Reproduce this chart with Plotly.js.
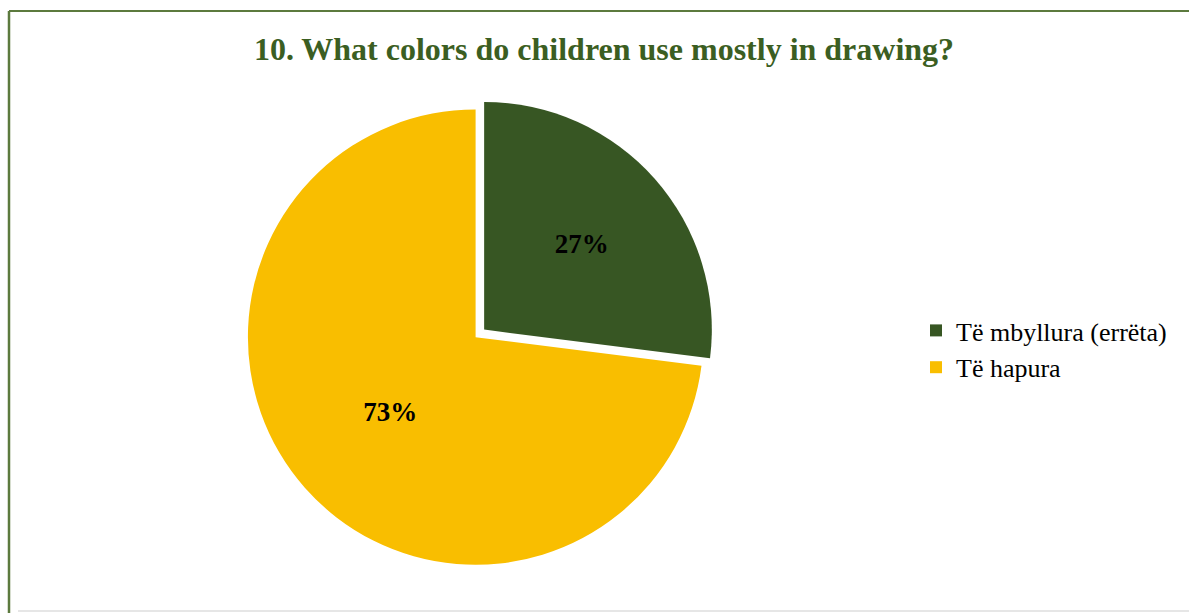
<!DOCTYPE html>
<html>
<head>
<meta charset="utf-8">
<script src="https://cdn.plot.ly/plotly-3.0.1.min.js"></script>
<style>
html,body{margin:0;padding:0;background:#fff;}
#chart{width:1189px;height:613px;}
</style>
</head>
<body>
<div id="chart"></div>
<script>
const categories = ["Të mbyllura (errëta)", "Të hapura"];
const values = [27, 73];
const sliceColors = ["#375623", "#F9BE00"];
const titleText = "10. What colors do children use mostly in drawing?";

const W = 1189, H = 613;
const trace = {
  type: "pie",
  labels: categories,
  values: values,
  sort: false,
  direction: "clockwise",
  rotation: 0,
  pull: [0.05, 0],
  marker: {colors: sliceColors, line: {color: "#ffffff", width: 0}},
  texttemplate: "%{percent:.0%}",
  textposition: "inside",
  insidetextorientation: "horizontal",
  textfont: {family: "Liberation Serif, Times New Roman, serif", size: 27, color: "#000000", weight: "bold"},
  hoverinfo: "label+percent",
  domain: {x: [0.12, 0.68], y: [0.06, 0.84]}
};

const layout = {
  width: W, height: H,
  margin: {l: 0, r: 0, t: 0, b: 0},
  paper_bgcolor: "#ffffff",
  title: {
    text: "<b>" + titleText + "</b>",
    font: {family: "Liberation Serif, Times New Roman, serif", size: 32, color: "#3B5E22"},
    x: 0.508, xanchor: "center", y: 1 - 49/H, yanchor: "middle"
  },
  showlegend: true,
  legend: {
    x: 916/W, xanchor: "left", y: 1 - 349/H, yanchor: "middle",
    font: {family: "Liberation Serif, Times New Roman, serif", size: 26, color: "#000000"},
    bgcolor: "rgba(0,0,0,0)", itemwidth: 30, tracegroupgap: 20
  },
  shapes: [
    {type: "line", xref: "paper", yref: "paper", x0: 9/W, x1: 1, y0: 1 - 11/H, y1: 1 - 11/H, line: {color: "#5C7A3E", width: 2}},
    {type: "line", xref: "paper", yref: "paper", x0: 9/W, x1: 9/W, y0: 0, y1: 1 - 11/H, line: {color: "#5C7A3E", width: 2.5}},
    {type: "line", xref: "paper", yref: "paper", x0: 18/W, x1: 1, y0: 2/H, y1: 2/H, line: {color: "#E6E6E6", width: 2}}
  ]
};

Plotly.newPlot("chart", [trace], layout, {displayModeBar: false, staticPlot: true});
</script>
</body>
</html>
